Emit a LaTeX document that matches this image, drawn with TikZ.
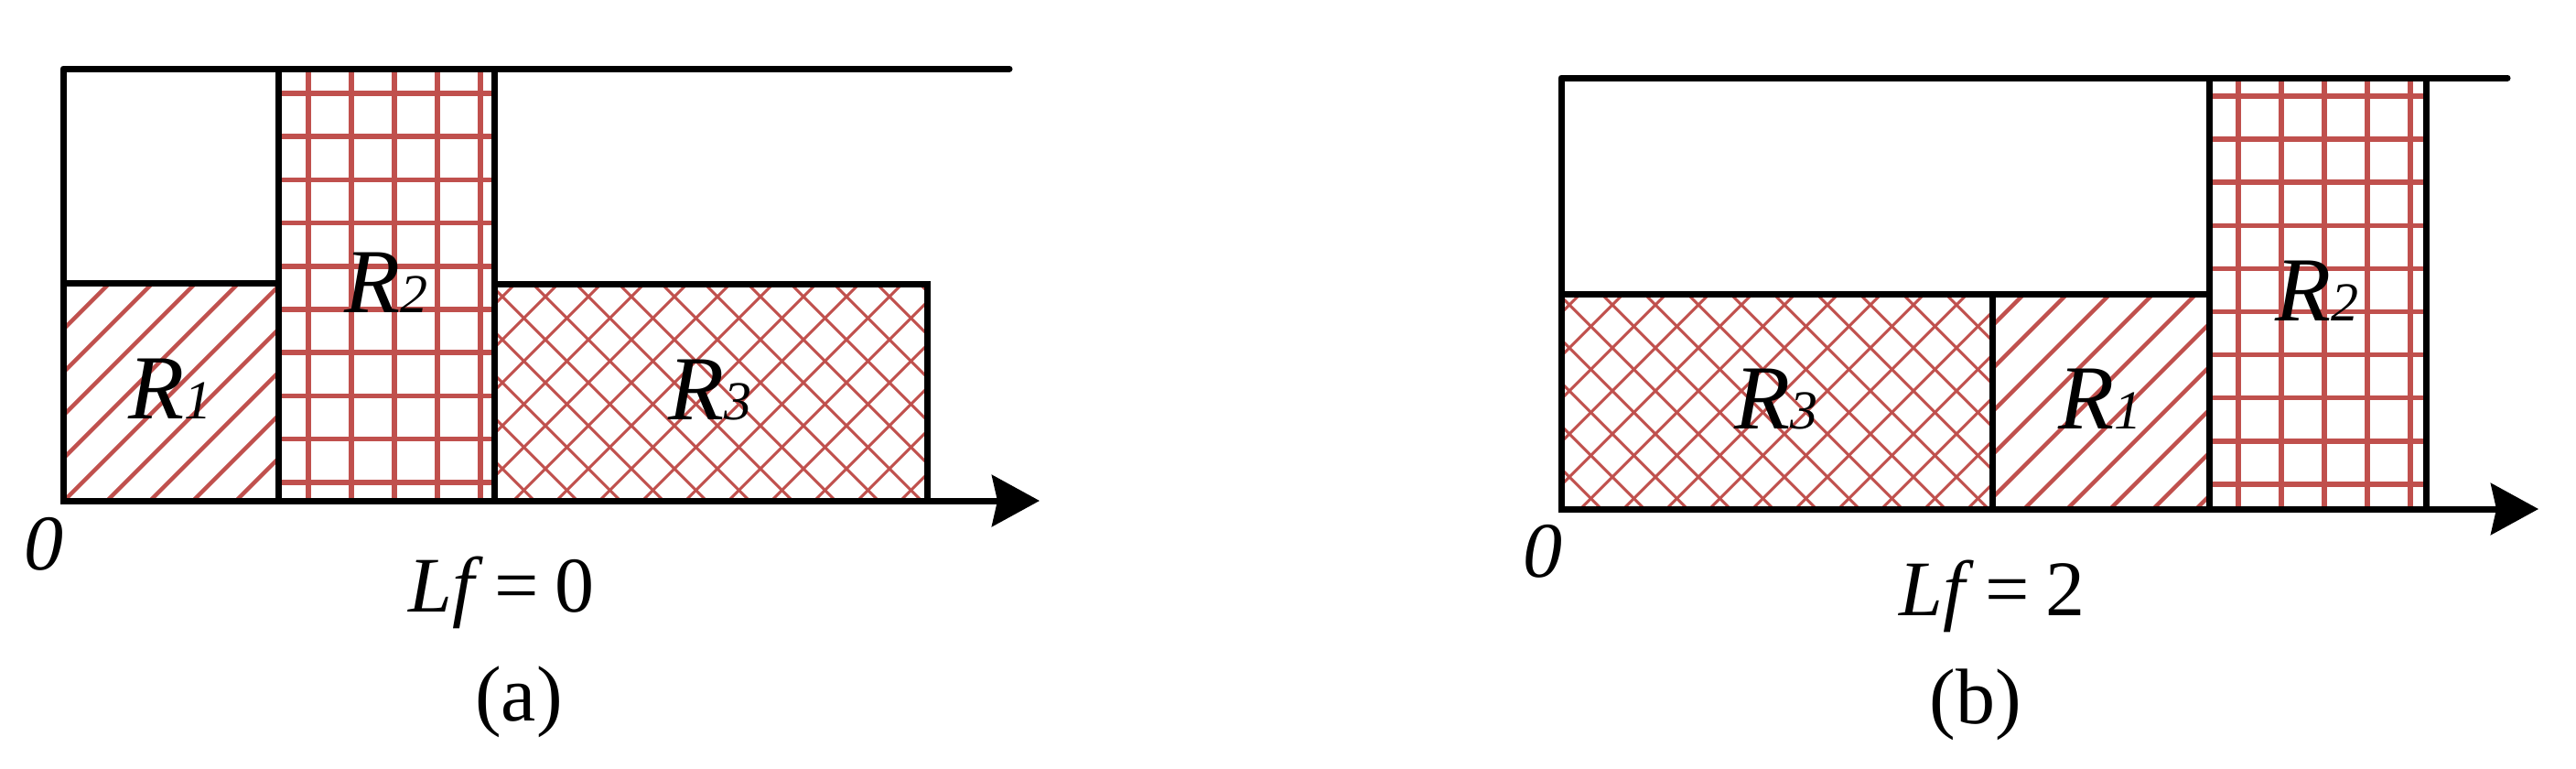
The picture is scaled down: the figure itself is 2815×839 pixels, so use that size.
\documentclass[tikz,border=0pt]{standalone}
\usepackage{fontspec}
\setmainfont{Liberation Serif}
\usetikzlibrary{arrows.meta}
\definecolor{hred}{RGB}{192,80,77}
\tikzset{
  box/.style={draw=black, line width=7pt},
  frameline/.style={draw=black, line width=7pt, line cap=round, line join=round},
  axisline/.style={draw=black, line width=7pt, -{Stealth[length=52pt,width=56pt,inset=6pt]}},
  gridline/.style={draw=hred, line width=5.5pt},
  diagline/.style={draw=hred, line width=4.5pt},
  crossline/.style={draw=hred, line width=3pt},
  rlabel/.style={font=\fontsize{100}{100}\selectfont\itshape, inner sep=0pt},
  txt/.style={font=\fontsize{86}{90}\selectfont, inner sep=0pt},
}
\newcommand{\Rlab}[1]{R{\fontsize{60}{60}\selectfont #1}}
\newcommand{\Lfeq}[1]{\textit{Lf}\hspace{0.14em}=\hspace{0.2em}#1}
\begin{document}
\begin{tikzpicture}[x=1pt,y=-1pt]
\useasboundingbox (0,0) rectangle (2815,839);

% ---------------- panel (a) ----------------
% R1 diagonal hatch
\begin{scope}
  \clip (69,309) rectangle (304,547);
  \foreach \xx in {-212,-165,...,304} \draw[diagline] (\xx,547) -- ++(320,-320);
\end{scope}
% R2 grid
\begin{scope}
  \clip (304,75) rectangle (540,547);
  \foreach \xx in {337,384,...,530} \draw[gridline] (\xx,70) -- (\xx,552);
  \foreach \yy in {102,149.2,...,540} \draw[gridline] (300,\yy) -- (545,\yy);
\end{scope}
% R3 crosshatch
\begin{scope}
  \clip (540,310) rectangle (1013,547);
  \foreach \xx in {232,279,...,1020} \draw[crossline] (\xx,547) -- ++(300,-300);
  \foreach \xx in {537,584,...,1330} \draw[crossline] (\xx,547) -- ++(-300,-300);
\end{scope}

\coordinate (aTL) at (69,75);
\coordinate (aTR) at (1103,75);
\coordinate (aBL) at (69,547);
\coordinate (aEnd) at (1136,547);
\draw[box] (69,309) rectangle (304,547);
\draw[box] (304,75) rectangle (540,547);
\draw[box] (540,310) rectangle (1013,547);
\draw[frameline] (aTR) -- (aTL) -- (aBL);
\draw[axisline] (aBL) -- (aEnd);

\node[rlabel] (aR1) at (186,425) {\Rlab{1}};
\node[rlabel] (aR2) at (422,309) {\Rlab{2}};
\node[rlabel] (aR3) at (776,426) {\Rlab{3}};
\node[txt, font=\fontsize{86}{90}\selectfont\itshape] (a0) at (48,594) {0};
\node[txt, anchor=base] (aLf) at (548,668) {\Lfeq{0}};
\node[txt] (acap) at (567,767) {(a)};

% ---------------- panel (b) ----------------
% R3 crosshatch
\begin{scope}
  \clip (1706,321) rectangle (2177,556);
  \foreach \xx in {1398,1445,...,2190} \draw[crossline] (\xx,556) -- ++(300,-300);
  \foreach \xx in {1703,1750,...,2490} \draw[crossline] (\xx,556) -- ++(-300,-300);
\end{scope}
% R1 diagonal hatch
\begin{scope}
  \clip (2177,321) rectangle (2414,556);
  \foreach \xx in {1930,1977,...,2420} \draw[diagline] (\xx,556) -- ++(320,-320);
\end{scope}
% R2 grid
\begin{scope}
  \clip (2414,85) rectangle (2651,556);
  \foreach \xx in {2446,2493,...,2645} \draw[gridline] (\xx,80) -- (\xx,560);
  \foreach \yy in {105,152.1,...,550} \draw[gridline] (2410,\yy) -- (2655,\yy);
\end{scope}

\coordinate (bTL) at (1706,85);
\coordinate (bTR) at (2740,85);
\coordinate (bBL) at (1706,556);
\coordinate (bEnd) at (2774,556);
\draw[box] (1706,321) rectangle (2177,556);
\draw[box] (2177,321) rectangle (2414,556);
\draw[box] (2414,85) rectangle (2651,556);
\draw[frameline] (bTR) -- (bTL) -- (bBL);
\draw[axisline] (bBL) -- (bEnd);

\node[rlabel] (bR3) at (1941,436) {\Rlab{3}};
\node[rlabel] (bR1) at (2295,436) {\Rlab{1}};
\node[rlabel] (bR2) at (2532,318) {\Rlab{2}};
\node[txt, font=\fontsize{86}{90}\selectfont\itshape] (b0) at (1686,602) {0};
\node[txt, anchor=base] (bLf) at (2177,672) {\Lfeq{2}};
\node[txt] (bcap) at (2159,770) {(b)};
\end{tikzpicture}
\end{document}
